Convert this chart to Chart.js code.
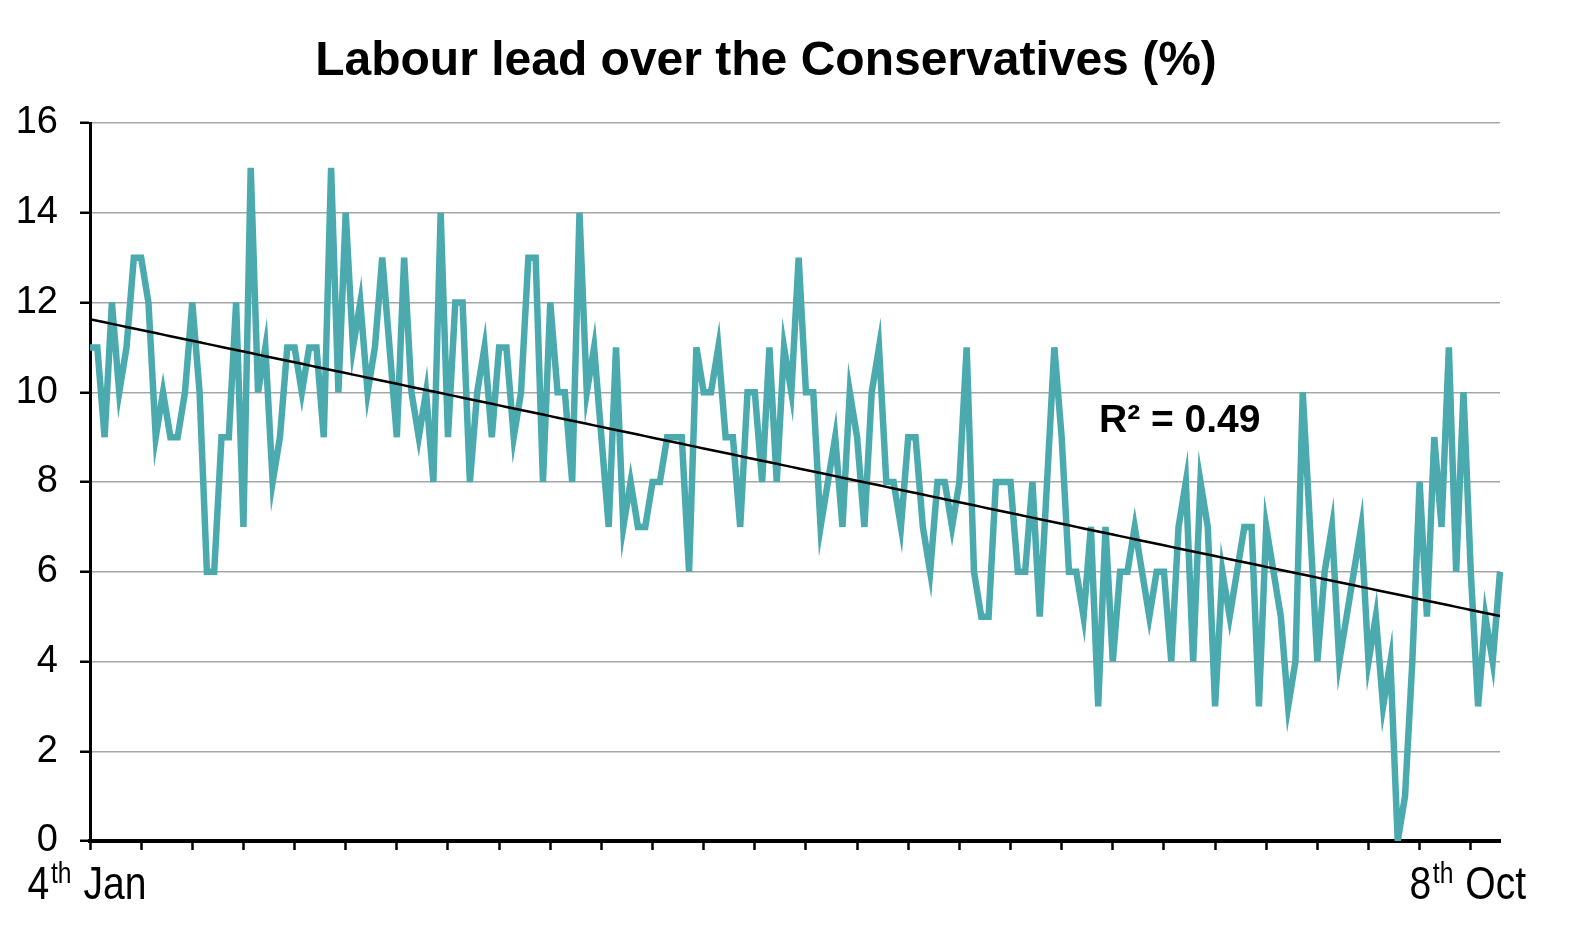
<!DOCTYPE html>
<html>
<head>
<meta charset="utf-8">
<script src="https://cdn.jsdelivr.net/npm/chart.js@4.4.1/dist/chart.umd.min.js"></script>
<style>
    html, body { margin: 0; padding: 0; background: #fff; }
</style>
</head>
<body>
<canvas id="graficoLideranca" width="1579" height="941"></canvas>
<script>
// ========== DADOS ==========
// Vantagem trabalhista (%) em cada sondagem, de 4 Jan a meados de Out
const vantagemTrabalhista = [
    11, 11, 9, 12, 10, 11, 13, 13, 12, 9, 10, 9, 9, 10, 12, 10, 6, 6, 9, 9, 12, 7, 15, 10,
    11, 8, 9, 11, 11, 10, 11, 11, 9, 15, 10, 14, 11, 12, 10, 11, 13, 11, 9, 13, 10, 9, 10, 8,
    14, 9, 12, 12, 8, 10, 11, 9, 11, 11, 9, 10, 13, 13, 8, 12, 10, 10, 8, 14, 10, 11,
    9, 7, 11, 7, 8, 7, 7, 8, 8, 9, 9, 9, 6, 11, 10, 10, 11, 9, 9, 7, 10, 10, 8, 11,
    8, 11, 10, 13, 10, 10, 7, 8, 9, 7, 10, 9, 7, 10, 11, 8, 8, 7, 9, 9, 7, 6, 8, 8,
    7, 8, 11, 6, 5, 5, 8, 8, 8, 6, 6, 8, 5, 8, 11, 9, 6, 6, 5, 7, 3, 7, 4,
    6, 6, 7, 6, 5, 6, 6, 4, 7, 8, 4, 8, 7, 3, 6, 5, 6, 7, 7, 3, 7, 6, 5, 3, 4,
    10, 7, 4, 6, 7, 4, 5, 6, 7, 4, 5, 3, 4, 0, 1, 4, 8, 5, 9, 7, 11, 6, 10, 6, 3, 5, 4, 6
];

// Rótulos do eixo X (só o primeiro e o "8th Oct")
const rotulosEixoX = [
    { indice: 0, dia: '4', sufixo: 'th', mes: 'Jan' },
    { indice: 189, dia: '8', sufixo: 'th', mes: 'Oct' }
];

const tituloGrafico = 'Labour lead over the Conservatives (%)';
const textoR2 = 'R² = 0.49';
const marcasY = [0, 2, 4, 6, 8, 10, 12, 14, 16];

const categorias = vantagemTrabalhista.map((_, i) => i);

// ========== LINHA DE TENDÊNCIA (mínimos quadrados) ==========
function calcularTendencia(valores) {
    const n = valores.length;
    let sx = 0, sy = 0, sxy = 0, sxx = 0;
    valores.forEach((v, i) => {
        sx += i; sy += v; sxy += i * v; sxx += i * i;
    });
    const b = (n * sxy - sx * sy) / (n * sxx - sx * sx);
    const a = (sy - b * sx) / n;
    return valores.map((_, i) => a + b * i);
}

const tendencia = calcularTendencia(vantagemTrabalhista);

// ========== TEXTOS DESENHADOS À MÃO ==========
const pluginTextos = {
    id: 'textos',
    afterDraw(chart) {
        const ctx = chart.ctx;
        const area = chart.chartArea;
        const escalaX = chart.scales.x;
        ctx.save();
        ctx.fillStyle = '#000';

        // titulo
        ctx.font = 'bold 48px "Liberation Sans", Arial, sans-serif';
        ctx.textAlign = 'center';
        ctx.textBaseline = 'middle';
        ctx.fillText(tituloGrafico, 766, 62);

        // R²
        ctx.font = 'bold 39px "Liberation Sans", Arial, sans-serif';
        ctx.textAlign = 'left';
        ctx.fillText(textoR2, 1099, 421);

        // rotulos do eixo X com sufixo sobrescrito (fonte estreitada)
        const estreito = 0.85;
        const fonteGrande = '46px "Liberation Sans", Arial, sans-serif';
        const fontePequena = '29px "Liberation Sans", Arial, sans-serif';
        ctx.textBaseline = 'alphabetic';
        rotulosEixoX.forEach(r => {
            ctx.font = fonteGrande;
            const wDia = ctx.measureText(r.dia).width;
            const wMes = ctx.measureText(r.mes).width;
            ctx.font = fontePequena;
            const wSuf = ctx.measureText(r.sufixo).width;
            const espaco = 14;
            const total = (wDia + 2 + wSuf + espaco + wMes) * estreito;
            const base = area.bottom + 58;
            ctx.save();
            ctx.translate(escalaX.getPixelForValue(r.indice) - total / 2 - 3, base);
            ctx.scale(estreito, 1);
            let x = 0;
            ctx.font = fonteGrande;
            ctx.fillText(r.dia, x, 0);
            x += wDia + 2;
            ctx.font = fontePequena;
            ctx.fillText(r.sufixo, x, -16);
            x += wSuf + espaco;
            ctx.font = fonteGrande;
            ctx.fillText(r.mes, x, 0);
            ctx.restore();
        });
        ctx.restore();
    }
};

// ========== GRÁFICO ==========
const ctxGrafico = document.getElementById('graficoLideranca').getContext('2d');

const grafico = new Chart(ctxGrafico, {
    type: 'line',
    data: {
        labels: categorias,
        datasets: [
            {
                label: 'Tendência',
                data: tendencia,
                borderColor: '#000000',
                borderWidth: 2.5,
                pointRadius: 0,
                tension: 0,
                order: 0
            },
            {
                label: 'Labour lead',
                data: vantagemTrabalhista,
                borderColor: '#4BAAAE',
                borderWidth: 6.5,
                pointRadius: 0,
                tension: 0,
                borderJoinStyle: 'miter',
                order: 1
            }
        ]
    },
    options: {
        responsive: false,
        animation: false,
        devicePixelRatio: 1,
        layout: {
            padding: { top: 123, right: 79, left: 0, bottom: 0 }
        },
        plugins: {
            legend: { display: false },
            title: { display: false },
            tooltip: { enabled: false }
        },
        scales: {
            x: {
                type: 'category',
                afterFit: s => { s.height = 100; },
                border: { color: '#000', width: 4 },
                grid: {
                    drawOnChartArea: false,
                    drawTicks: true,
                    tickLength: 9,
                    tickWidth: 2.5,
                    tickColor: c => (c.index % 7 === 0 ? '#000' : 'rgba(0,0,0,0)')
                },
                ticks: {
                    autoSkip: false,
                    maxRotation: 0,
                    callback: () => ''
                }
            },
            y: {
                min: 0,
                max: 16,
                afterFit: s => { s.width = 90; },
                afterBuildTicks: s => { s.ticks = marcasY.map(v => ({ value: v })); },
                border: { color: '#000', width: 3 },
                grid: {
                    color: '#A6A6A6',
                    lineWidth: 1.5,
                    tickColor: '#000',
                    tickLength: 10,
                    tickWidth: 2.5
                },
                ticks: {
                    padding: 22,
                    color: '#000',
                    font: { family: '"Liberation Sans", Arial, sans-serif', size: 38 }
                }
            }
        }
    },
    plugins: [pluginTextos]
});
</script>
</body>
</html>
